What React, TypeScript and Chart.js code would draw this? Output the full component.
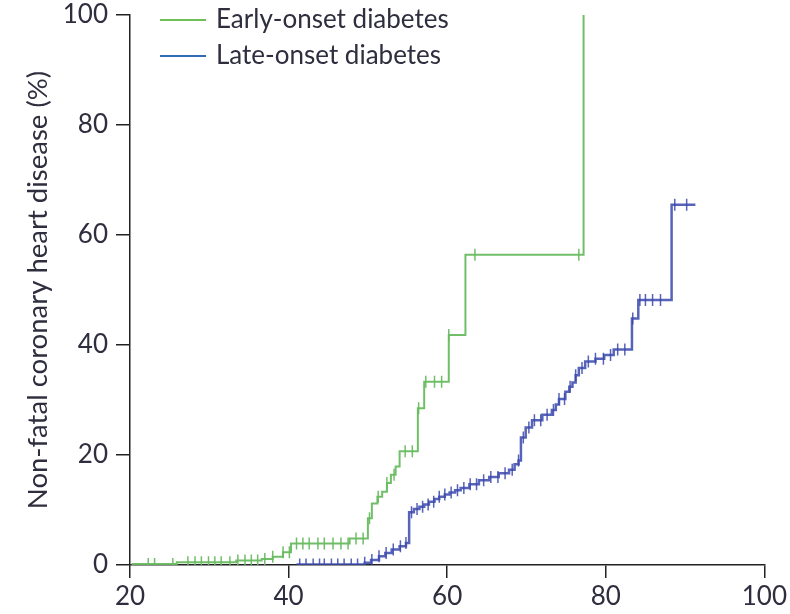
import React, { useEffect, useRef } from "react";
import { Chart, registerables } from "chart.js";

Chart.register(...registerables);

// ---- data ----
const xTickValues = [20, 40, 60, 80, 100];
const yTickValues = [0, 20, 40, 60, 80, 100];
const seriesLabels = ["Early-onset diabetes", "Late-onset diabetes"];

// Early-onset: event times (age, years) and cumulative incidence after each step (%)
const earlyTimes = [20.2, 25.9, 33.4, 36.6, 38.0, 39.3, 40.3, 47.7, 50.0, 50.5, 51.2, 51.8, 52.4, 52.9, 53.5, 54.0, 56.3, 57.1, 60.2, 62.3, 77.2];
const earlyValues = [0.2, 0.5, 0.8, 1.1, 1.5, 2.3, 3.9, 4.8, 8.5, 11.2, 12.4, 13.3, 14.9, 16.4, 17.9, 20.7, 28.5, 33.3, 41.8, 56.4, 100];
const earlyCensored = [22.3, 23.1, 25.4, 27.3, 28.2, 29.0, 29.9, 30.7, 31.5, 32.6, 33.6, 34.5, 35.3, 36.1, 37.0, 38.0, 39.3, 40.1, 41.0, 41.8, 42.6, 43.7, 44.5, 45.6, 46.6, 47.5, 48.5, 49.4, 50.2, 51.3, 52.4, 53.3, 54.7, 55.6, 56.4, 57.3, 58.4, 59.3, 60.2, 63.5, 76.6];

// Late-onset
const lateTimes = [41.0, 49.6, 50.4, 51.4, 52.2, 53.0, 54.0, 54.8, 55.2, 55.8, 56.5, 57.1, 57.7, 58.4, 59.0, 59.7, 60.3, 61.0, 61.7, 62.8, 64.0, 65.3, 66.5, 67.8, 68.5, 69.0, 69.3, 69.9, 70.7, 72.0, 73.2, 73.7, 74.1, 74.9, 75.4, 75.8, 76.2, 76.6, 77.4, 78.7, 79.8, 81.0, 83.3, 84.1, 88.3, 91.3];
const lateValues = [0.1, 0.4, 0.9, 1.6, 2.2, 2.8, 3.4, 4.0, 9.6, 10.2, 10.6, 11.0, 11.5, 12.0, 12.4, 12.8, 13.2, 13.6, 14.0, 14.7, 15.4, 16.0, 16.7, 17.3, 18.3, 19.0, 23.2, 25.0, 26.3, 27.3, 28.2, 29.2, 30.2, 31.5, 32.4, 33.2, 34.5, 35.8, 37.0, 37.5, 38.2, 39.2, 44.8, 48.2, 65.5, 65.5];
const lateCensored = [41.4, 42.2, 43.1, 43.9, 44.5, 45.4, 46.2, 47.0, 47.9, 48.7, 49.6, 50.5, 51.4, 52.3, 53.2, 54.1, 54.8, 55.5, 56.2, 56.9, 57.6, 58.3, 59.0, 59.7, 60.5, 61.3, 62.1, 62.9, 63.7, 64.6, 65.5, 66.4, 67.3, 68.2, 69.0, 69.6, 70.3, 71.0, 71.8, 72.6, 73.4, 74.1, 74.8, 75.5, 76.2, 77.0, 77.8, 78.7, 79.7, 80.6, 81.5, 82.4, 83.4, 84.3, 85.0, 85.9, 86.9, 88.7, 90.2];

// ---- styles ----
const GREEN = "rgba(104,188,96,0.95)";
const BLUE = "rgba(58,72,172,0.85)";
const LEGEND_GREEN = "#6fbf57";
const LEGEND_BLUE = "#2f6cb4";
const TEXT = "#2e2e3e";
const FONT = "Lato, 'Open Sans', sans-serif";

function stepAt(times: number[], values: number[], t: number): number {
  let v = 0;
  for (let i = 0; i < times.length; i++) {
    if (times[i] <= t) v = values[i];
  }
  return v;
}

const legendPlugin = {
  id: "kmLegend",
  afterDraw(chart: any) {
    const ctx = chart.ctx;
    const items = [
      { label: seriesLabels[0], color: LEGEND_GREEN, y: 20 },
      { label: seriesLabels[1], color: LEGEND_BLUE, y: 56 },
    ];
    ctx.save();
    ctx.font = `26px ${FONT}`;
    ctx.textBaseline = "middle";
    ctx.textAlign = "left";
    for (const it of items) {
      ctx.strokeStyle = it.color;
      ctx.lineWidth = 2;
      ctx.beginPath();
      ctx.moveTo(160, it.y);
      ctx.lineTo(206, it.y);
      ctx.stroke();
      ctx.fillStyle = TEXT;
      ctx.fillText(it.label, 216, it.y);
    }
    ctx.restore();
  },
};

export default function App() {
  const ref = useRef<HTMLCanvasElement | null>(null);

  useEffect(() => {
    if (!ref.current) return;
    const earlyLine = earlyTimes.map((x, i) => ({ x, y: earlyValues[i] }));
    const lateLine = lateTimes.map((x, i) => ({ x, y: lateValues[i] }));
    const earlyMarks = earlyCensored.map((x) => ({ x, y: stepAt(earlyTimes, earlyValues, x) }));
    const lateMarks = lateCensored.map((x) => ({ x, y: stepAt(lateTimes, lateValues, x) }));

    const chart = new Chart(ref.current, {
      type: "line",
      data: {
        datasets: [
          { label: seriesLabels[0], data: earlyLine, stepped: true, borderColor: GREEN, borderWidth: 2, pointRadius: 0, fill: false },
          { label: seriesLabels[1], data: lateLine, stepped: true, borderColor: BLUE, borderWidth: 2.5, pointRadius: 0, fill: false },
          { label: seriesLabels[0] + " censored", data: earlyMarks, showLine: false, pointStyle: "line", rotation: 90, pointRadius: 6, borderColor: GREEN, backgroundColor: GREEN, borderWidth: 1.5 },
          { label: seriesLabels[1] + " censored", data: lateMarks, showLine: false, pointStyle: "line", rotation: 90, pointRadius: 6, borderColor: BLUE, backgroundColor: BLUE, borderWidth: 1.5 },
        ],
      },
      options: {
        responsive: false,
        animation: false,
        devicePixelRatio: 1,
        layout: { padding: { top: 15, right: 24, left: 0, bottom: 0 } },
        plugins: { legend: { display: false }, tooltip: { enabled: false } },
        scales: {
          x: {
            type: "linear",
            min: 20,
            max: 100,
            afterBuildTicks: (s: any) => { s.ticks = xTickValues.map((v) => ({ value: v })); },
            afterFit: (s: any) => { s.height = 49; },
            grid: { display: true, drawOnChartArea: false, drawTicks: true, tickLength: 13, color: "#222", lineWidth: 1.5 },
            border: { display: true, color: "#222", width: 1.5 },
            ticks: { color: TEXT, font: { family: FONT, size: 26 }, padding: 3, maxRotation: 0 },
          },
          y: {
            type: "linear",
            min: 0,
            max: 100,
            afterBuildTicks: (s: any) => { s.ticks = yTickValues.map((v) => ({ value: v })); },
            afterFit: (s: any) => { s.width = 130; },
            grid: { display: true, drawOnChartArea: false, drawTicks: true, tickLength: 14, color: "#222", lineWidth: 1.5 },
            border: { display: true, color: "#222", width: 1.5 },
            ticks: { color: TEXT, font: { family: FONT, size: 26, lineHeight: 0.4 }, padding: 8 },
            title: { display: true, text: "Non-fatal coronary heart disease (%)", color: TEXT, font: { family: FONT, size: 27.5 }, padding: { top: 22, bottom: 0 } },
          },
        },
      },
      plugins: [legendPlugin],
    } as any);
    return () => chart.destroy();
  }, []);

  return (
    <div style={{ position: "fixed", left: 0, top: 0, width: 790, height: 614, background: "#fff" }}>
      <canvas ref={ref} width={790} height={614} style={{ width: 790, height: 614, display: "block" }} />
    </div>
  );
}
